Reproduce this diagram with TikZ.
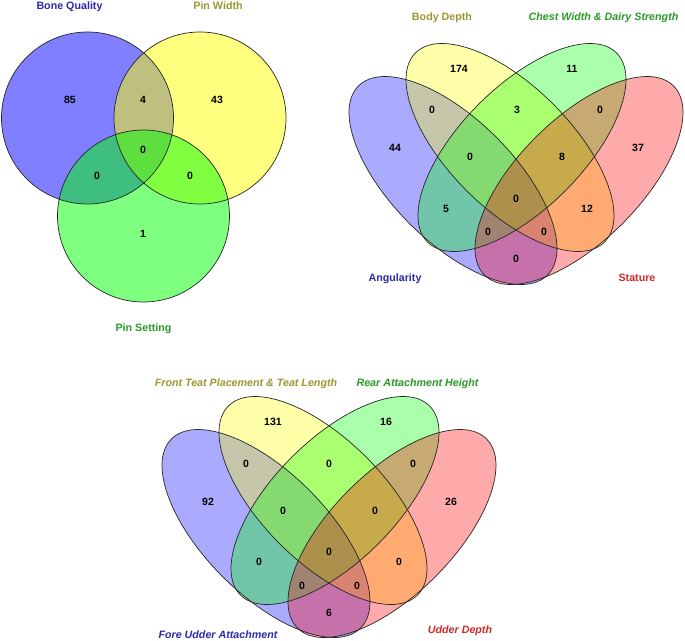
\documentclass[tikz,border=0pt]{standalone}
\usepackage{fontspec}
\setmainfont{Liberation Sans}
\definecolor{labblue}{HTML}{2A2AA8}
\definecolor{labolive}{HTML}{999933}
\definecolor{labgreen}{HTML}{2A9A2A}
\definecolor{labred}{HTML}{CC2A2A}
\definecolor{vblue}{RGB}{0,0,255}
\definecolor{vyellow}{RGB}{255,255,0}
\definecolor{vgreen}{RGB}{0,255,0}
\definecolor{vred}{RGB}{255,0,0}
\tikzset{
  num/.style={font=\fontsize{10.5}{12}\selectfont\bfseries, text=black, inner sep=0pt},
  lab/.style={font=\fontsize{10.7}{12}\selectfont\bfseries, inner sep=0pt, anchor=base},
  labit/.style={font=\fontsize{10.7}{12}\selectfont\bfseries\itshape, inner sep=0pt, anchor=base},
  outline/.style={draw=black!85, line width=0.7pt},
  tfill/.style={fill opacity=0.5},
  qfill/.style={fill opacity=0.3333},
}
\begin{document}
\begin{tikzpicture}[x=1pt, y=-1pt]
\useasboundingbox (0,0) rectangle (685,640);
\fill[white] (0,0) rectangle (685,640);

% ---------- three-set Venn ----------
\fill[vblue, tfill] (87.5,118) circle[radius=86pt];
\fill[vyellow, tfill] (200,118) circle[radius=86pt];
\fill[vgreen, tfill] (143.5,216) circle[radius=86pt];
\draw[outline] (87.5,118) circle[radius=86pt];
\draw[outline] (200,118) circle[radius=86pt];
\draw[outline] (143.5,216) circle[radius=86pt];

\node[lab, text=labblue] (bq) at (69.5,9.5) {Bone Quality};
\node[lab, text=labolive] (pw) at (218,9.5) {Pin Width};
\node[lab, text=labgreen] (ps) at (143.5,331) {Pin Setting};

\node[num] (t1) at (70,100) {85};
\node[num] (t2) at (143,100) {4};
\node[num] (t3) at (217,100) {43};
\node[num] (t4) at (143,150) {0};
\node[num] (t5) at (97,176) {0};
\node[num] (t6) at (190,176) {0};
\node[num] (t7) at (143,234) {1};

% ---------- four-set Venn (top right) ----------
\begin{scope}
\fill[vblue, qfill, shift={(453,180.5)}, rotate=-45] (0,0) ellipse[x radius=133.7pt, y radius=61.2pt];
\fill[vyellow, qfill, shift={(510,147.5)}, rotate=-45] (0,0) ellipse[x radius=133.7pt, y radius=61.2pt];
\fill[vgreen, qfill, shift={(522,147.5)}, rotate=45] (0,0) ellipse[x radius=133.7pt, y radius=61.2pt];
\fill[vred, qfill, shift={(579,180.5)}, rotate=45] (0,0) ellipse[x radius=133.7pt, y radius=61.2pt];
\draw[outline, shift={(453,180.5)}, rotate=-45] (0,0) ellipse[x radius=133.7pt, y radius=61.2pt];
\draw[outline, shift={(510,147.5)}, rotate=-45] (0,0) ellipse[x radius=133.7pt, y radius=61.2pt];
\draw[outline, shift={(522,147.5)}, rotate=45] (0,0) ellipse[x radius=133.7pt, y radius=61.2pt];
\draw[outline, shift={(579,180.5)}, rotate=45] (0,0) ellipse[x radius=133.7pt, y radius=61.2pt];
\end{scope}

\node[lab, text=labolive] (bd) at (442,20.7) {Body Depth};
\node[labit, text=labgreen] (cw) at (603.5,20.7) {Chest Width \& Dairy Strength};
\node[lab, text=labblue] (an) at (395,281.4) {Angularity};
\node[lab, text=labred] (st) at (637,281.4) {Stature};

\node[num] (q1) at (459,69) {174};
\node[num] (q2) at (572,69) {11};
\node[num] (q3) at (395,148) {44};
\node[num] (q4) at (638,148) {37};
\node[num] (q5) at (432,110) {0};
\node[num] (q6) at (517,110) {3};
\node[num] (q7) at (600,110) {0};
\node[num] (q8) at (470,157) {0};
\node[num] (q9) at (562,157) {8};
\node[num] (q10) at (516,199) {0};
\node[num] (q11) at (446,209) {5};
\node[num] (q12) at (587,209) {12};
\node[num] (q13) at (488,232) {0};
\node[num] (q14) at (544,232) {0};
\node[num] (q15) at (516,259) {0};

% ---------- four-set Venn (bottom) ----------
\begin{scope}[shift={(-187,353)}]
\fill[vblue, qfill, shift={(453,180.5)}, rotate=-45] (0,0) ellipse[x radius=133.7pt, y radius=61.2pt];
\fill[vyellow, qfill, shift={(510,147.5)}, rotate=-45] (0,0) ellipse[x radius=133.7pt, y radius=61.2pt];
\fill[vgreen, qfill, shift={(522,147.5)}, rotate=45] (0,0) ellipse[x radius=133.7pt, y radius=61.2pt];
\fill[vred, qfill, shift={(579,180.5)}, rotate=45] (0,0) ellipse[x radius=133.7pt, y radius=61.2pt];
\draw[outline, shift={(453,180.5)}, rotate=-45] (0,0) ellipse[x radius=133.7pt, y radius=61.2pt];
\draw[outline, shift={(510,147.5)}, rotate=-45] (0,0) ellipse[x radius=133.7pt, y radius=61.2pt];
\draw[outline, shift={(522,147.5)}, rotate=45] (0,0) ellipse[x radius=133.7pt, y radius=61.2pt];
\draw[outline, shift={(579,180.5)}, rotate=45] (0,0) ellipse[x radius=133.7pt, y radius=61.2pt];
\end{scope}

\node[labit, text=labolive] (ft) at (246,386) {Front Teat Placement \& Teat Length};
\node[labit, text=labgreen] (ra) at (417.5,386) {Rear Attachment Height};
\node[labit, text=labblue] (fu) at (218,638) {Fore Udder Attachment};
\node[labit, text=labred] (ud) at (460,633) {Udder Depth};

\node[num] (u1) at (273,422) {131};
\node[num] (u2) at (386,422) {16};
\node[num] (u3) at (208,502) {92};
\node[num] (u4) at (451,502) {26};
\node[num] (u5) at (246,464) {0};
\node[num] (u6) at (329,464) {0};
\node[num] (u7) at (413,464) {0};
\node[num] (u8) at (283,511) {0};
\node[num] (u9) at (375,511) {0};
\node[num] (u10) at (329,552) {0};
\node[num] (u11) at (259,562) {0};
\node[num] (u12) at (399,562) {0};
\node[num] (u13) at (302,586) {0};
\node[num] (u14) at (357,586) {0};
\node[num] (u15) at (329,613) {6};
\end{tikzpicture}
\end{document}
